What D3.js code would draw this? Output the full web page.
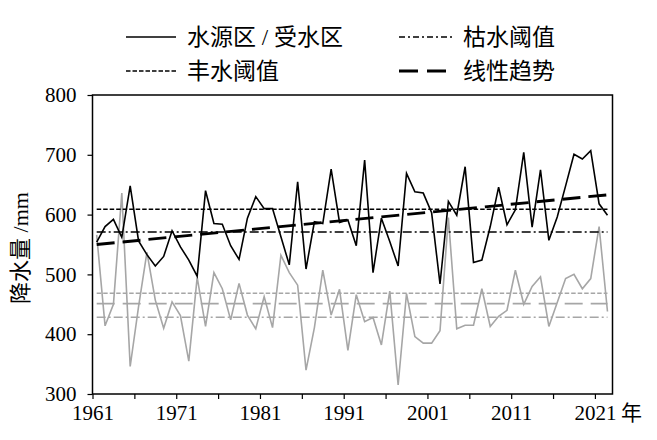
<!DOCTYPE html>
<html><head><meta charset="utf-8">
<script src="https://cdn.jsdelivr.net/npm/d3@7"></script>
<style>
body{margin:0;background:#fff;}
svg{display:block;}
text{font-family:"Liberation Serif","Times New Roman","Noto Sans CJK SC",serif;fill:#000;}
</style>
</head><body>
<svg id="chart" width="657" height="440"></svg>
<script>
// ---------- data ----------
const years = d3.range(1961, 2023);
const sourceRain = [554,580,592,562,648,556,533,514,530,573,
                    546,524,497,640,585,584,548,525,594,630,
                    610,610,563,516,655,509,588,585,676,587,
                    591,548,691,503,594,555,514,669,638,636,
                    603,484,622,599,680,520,524,580,646,583,
                    608,704,579,675,557,596,648,701,693,707,
                    618,599];
const receiveRain = [566,414,450,636,346,446,537,457,410,454,
                     431,355,495,413,503,476,424,485,432,409,
                     463,411,532,503,482,340,411,507,432,475,
                     373,466,421,428,382,472,315,468,396,385,
                     385,406,595,409,415,415,476,413,430,440,
                     507,450,480,496,413,453,493,500,476,493,
                     580,438];
// [水源区, 受水区]
const floodThreshold = [609, 468.5];
const droughtThreshold = [571, 428.5];
const trendFirst = [550, 451];   // trend value in first year
const trendLast = [633, 451];    // trend value in last year
const yTicks = [300, 400, 500, 600, 700, 800];
const xTicks = [1961, 1966, 1971, 1976, 1981, 1986, 1991, 1996, 2001, 2006, 2011, 2016, 2021];
const xLabels = [1961, 1971, 1981, 1991, 2001, 2011, 2021];
const legendRow1 = ["水源区 / 受水区", "枯水阈值"];
const legendRow2 = ["丰水阈值", "线性趋势"];

// ---------- layout ----------
const svg = d3.select("#chart");
const L = 92.5, R = 612.5, T = 95, B = 394;
const x = d3.scaleLinear().domain([1961, 2023.1]).range([L, R]);
const y = d3.scaleLinear().domain([300, 800]).range([B, T]);
const px = yr => x(yr + 0.5);
const BLACK = "#000", GRAY = "#a6a6a6";
const DASH = "4.5,2", DASHDOT = "9,3,2,3", LONG = "18,8";

const g = svg.append("g");

const y0 = years[0], y1 = years[years.length - 1];
function hline(val, color, dash, w) {
  g.append("line").attr("x1", px(y0)).attr("x2", px(y1))
    .attr("y1", y(val)).attr("y2", y(val))
    .attr("stroke", color).attr("stroke-width", w).attr("stroke-dasharray", dash);
}
hline(floodThreshold[1], GRAY, DASH, 1.5);
hline(droughtThreshold[1], GRAY, DASHDOT, 1.5);
g.append("line").attr("x1", px(y0)).attr("x2", px(y1))
  .attr("y1", y(trendFirst[1])).attr("y2", y(trendLast[1]))
  .attr("stroke", GRAY).attr("stroke-width", 1.8).attr("stroke-dasharray", LONG);

const line = d3.line().x((d, i) => px(years[i])).y(d => y(d));
g.append("path").datum(receiveRain).attr("d", line)
  .attr("fill", "none").attr("stroke", GRAY).attr("stroke-width", 1.6).attr("stroke-linejoin", "miter");

hline(floodThreshold[0], BLACK, DASH, 1.4);
hline(droughtThreshold[0], BLACK, DASHDOT, 1.4);
g.append("path").datum(sourceRain).attr("d", line)
  .attr("fill", "none").attr("stroke", BLACK).attr("stroke-width", 1.6).attr("stroke-linejoin", "miter");
g.append("line").attr("x1", px(y0)).attr("x2", px(y1))
  .attr("y1", y(trendFirst[0])).attr("y2", y(trendLast[0]))
  .attr("stroke", BLACK).attr("stroke-width", 2.8).attr("stroke-dasharray", LONG);

// frame
svg.append("rect").attr("x", L).attr("y", T).attr("width", R - L).attr("height", B - T)
  .attr("fill", "none").attr("stroke", "#000").attr("stroke-width", 1.5);

// axes
const yAxis = svg.append("g").attr("transform", `translate(${L},0)`)
  .call(d3.axisLeft(y).tickValues(yTicks).tickSize(5).tickPadding(11).tickFormat(d3.format("d")));
const xAxis = svg.append("g").attr("transform", `translate(0,${B})`)
  .call(d3.axisBottom(x).tickValues(xTicks).tickSize(5).tickPadding(6)
    .tickFormat(d => xLabels.includes(d) ? String(d) : ""));
[yAxis, xAxis].forEach(a => {
  a.select(".domain").remove();
  a.selectAll("line").attr("stroke", "#000").attr("stroke-width", 1.2);
  a.selectAll("text").attr("font-size", 21).attr("font-family", "Liberation Serif").attr("fill", "#000");
});
svg.append("text").attr("x", x(2021) + 26).attr("y", 420)
  .attr("font-size", 21).text("年");

// y label
svg.append("text").attr("transform", "translate(28,248) rotate(-90)")
  .attr("text-anchor", "middle").attr("font-size", 22).text("降水量 /mm");

// legend
const lg = svg.append("g");
function legendItem(x1, x2, yy, dash, w, label, tx) {
  lg.append("line").attr("x1", x1).attr("x2", x2).attr("y1", yy).attr("y2", yy)
    .attr("stroke", "#000").attr("stroke-width", w).attr("stroke-dasharray", dash);
  lg.append("text").attr("x", tx).attr("y", yy + 8).attr("font-size", 23).text(label);
}
legendItem(126, 176, 37, null, 1.6, legendRow1[0], 187);
legendItem(399, 453, 37, "6,3,2,3", 1.4, legendRow1[1], 463);
legendItem(126, 178, 71, DASH, 1.4, legendRow2[0], 187);
legendItem(399, 446, 71, "19,9", 2.8, legendRow2[1], 463);
</script>
</body></html>
